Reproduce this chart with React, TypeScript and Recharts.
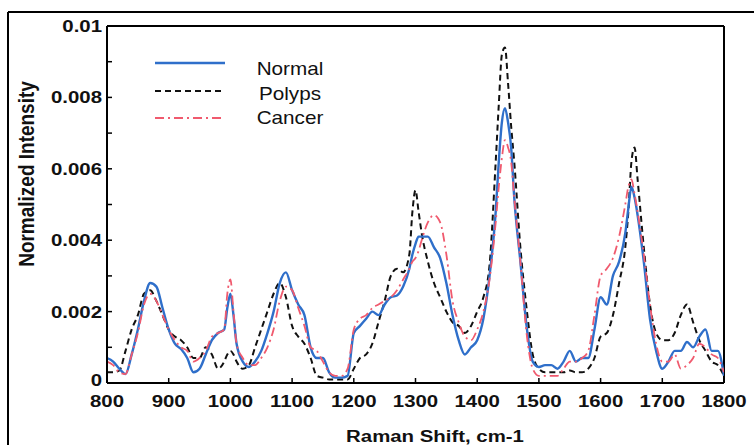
import React from "react";
import { LineChart, Line, XAxis, YAxis, ReferenceLine } from "recharts";

const shifts = [
  800, 810, 820, 830, 840, 850, 860, 870, 880, 890,
  900, 910, 920, 930, 940, 950, 960, 970, 980, 990,
  995, 1000, 1005, 1010, 1020, 1030, 1040, 1050, 1060, 1070,
  1080, 1090, 1100, 1110, 1120, 1130, 1140, 1150, 1160, 1170,
  1180, 1190, 1200, 1210, 1220, 1230, 1240, 1250, 1260, 1270,
  1280, 1290, 1295, 1300, 1305, 1310, 1320, 1330, 1340, 1350,
  1360, 1370, 1380, 1390, 1400, 1410, 1420, 1430, 1435, 1440,
  1445, 1450, 1455, 1460, 1470, 1480, 1490, 1500, 1510, 1520,
  1530, 1540, 1550, 1560, 1570, 1580, 1590, 1600, 1610, 1620,
  1630, 1640, 1645, 1650, 1655, 1660, 1670, 1680, 1690, 1700,
  1710, 1720, 1730, 1740, 1750, 1760, 1770, 1780, 1790, 1800,
];

const normal = [
  0.0007, 0.0006, 0.0004, 0.00025, 0.0008, 0.0015, 0.0023, 0.0028, 0.0027, 0.0021,
  0.0015, 0.0011, 0.00095, 0.0007, 0.0003, 0.0004, 0.0008, 0.0012, 0.0014, 0.0015,
  0.0021, 0.0025, 0.0019, 0.0011, 0.0006, 0.00045, 0.0006, 0.0009, 0.0014, 0.002,
  0.0028, 0.0031, 0.0026, 0.0022, 0.0019, 0.001, 0.0007, 0.0007, 0.0003, 0.00015,
  0.00015, 0.0002, 0.0014, 0.0016, 0.0018, 0.002, 0.0019, 0.0022, 0.0024, 0.00245,
  0.0027, 0.0032, 0.0036, 0.0039, 0.0041, 0.0041, 0.0041, 0.0038, 0.0035, 0.0028,
  0.0019, 0.0012, 0.0008, 0.001, 0.0012, 0.0018, 0.003, 0.0048, 0.0062, 0.0073,
  0.0077, 0.0073, 0.0066, 0.0052, 0.0034, 0.0016, 0.0006, 0.00045, 0.0005, 0.0005,
  0.0004, 0.0006, 0.0009, 0.0006, 0.0007, 0.0007, 0.0015, 0.0024, 0.0022, 0.003,
  0.0034, 0.0042, 0.0049, 0.0055, 0.0052, 0.0047, 0.0034, 0.0018, 0.0009, 0.0004,
  0.0006, 0.0009, 0.0009, 0.00115, 0.001, 0.0013, 0.0015, 0.0009, 0.0009, 0.0002,
];

const polyps = [
  0.0003, 0.0003, 0.00035, 0.0009, 0.0015, 0.0019, 0.0025, 0.0026, 0.0023, 0.0019,
  0.0015, 0.0013, 0.0012, 0.001, 0.0007, 0.0007, 0.001, 0.0008, 0.0004, 0.0006,
  0.0008, 0.0009, 0.0008, 0.0006, 0.0004, 0.0005, 0.001, 0.0015, 0.002, 0.0025,
  0.0028, 0.0024, 0.0016, 0.0013, 0.0011, 0.0007, 0.0002, 0.00015, 0.0001, 0.0001,
  0.0001, 0.0001, 0.0004, 0.0007, 0.0008, 0.0011, 0.0017, 0.0023, 0.003, 0.0032,
  0.0031, 0.0036, 0.0048, 0.0054, 0.0048, 0.0042, 0.0034, 0.0028, 0.0024, 0.002,
  0.0017, 0.0016, 0.0014, 0.0016, 0.002, 0.0024, 0.0033, 0.0062, 0.0078, 0.0092,
  0.0094, 0.0084, 0.0072, 0.0062, 0.0038, 0.0021, 0.0008, 0.0004, 0.0003, 0.0003,
  0.0003, 0.0003, 0.00035, 0.0003, 0.0003, 0.0004, 0.0007, 0.0013, 0.0014, 0.0019,
  0.0028, 0.0038, 0.0048, 0.0062, 0.0066, 0.0057, 0.0038, 0.0022, 0.0014, 0.0012,
  0.0012, 0.0014, 0.0019, 0.0022, 0.0017, 0.0012, 0.0009, 0.0006, 0.0005, 0.0002,
];

const cancer = [
  0.0006, 0.0005, 0.0003, 0.00025, 0.0008, 0.0014, 0.0022, 0.0025, 0.0023, 0.0019,
  0.0015, 0.0012, 0.001, 0.0009, 0.0006, 0.0007, 0.0009, 0.0013, 0.0014, 0.0015,
  0.0025, 0.0029, 0.002, 0.0011, 0.0007, 0.0005, 0.0005, 0.0007, 0.001, 0.0015,
  0.0023, 0.0027, 0.0026, 0.0021, 0.0016, 0.001, 0.0009, 0.0006, 0.0003, 0.0002,
  0.0002, 0.0004, 0.0015, 0.0018, 0.0019, 0.0021, 0.0022, 0.0023, 0.0024, 0.0026,
  0.0029, 0.0032, 0.0034, 0.0035, 0.0037, 0.004, 0.0045, 0.0047, 0.0045, 0.0036,
  0.0023, 0.0017, 0.0013, 0.0012, 0.0015, 0.002, 0.0029, 0.0045, 0.0055, 0.0063,
  0.0068, 0.0066, 0.0062, 0.0052, 0.0034, 0.0014, 0.0004, 0.0002, 0.0002, 0.0002,
  0.0002, 0.0004, 0.0006, 0.0006, 0.0007, 0.0009, 0.0019, 0.003, 0.0032, 0.0035,
  0.0041, 0.005, 0.0055, 0.0057, 0.0053, 0.0048, 0.0036, 0.0022, 0.0011, 0.0006,
  0.0006, 0.0008, 0.0004, 0.0005, 0.0007, 0.0011, 0.001, 0.0008, 0.0007, 0.0003,
];

const xTicks = [800, 900, 1000, 1100, 1200, 1300, 1400, 1500, 1600, 1700, 1800];
const yTicks = [0, 0.001, 0.002, 0.003, 0.004, 0.005, 0.006, 0.007, 0.008, 0.009, 0.01];
const yLabels: Record<string, string> = {
  "0": "0",
  "0.002": "0.002",
  "0.004": "0.004",
  "0.006": "0.006",
  "0.008": "0.008",
  "0.01": "0.01",
};

const seriesInfo = [
  { key: "Normal", color: "#2f6fca", dash: undefined as string | undefined, width: 2.4 },
  { key: "Polyps", color: "#111111", dash: "6 4", width: 2 },
  { key: "Cancer", color: "#f05a6e", dash: "9 4 2 4", width: 1.8 },
];

const data = shifts.map((s, i) => ({
  shift: s,
  Normal: normal[i],
  Polyps: polyps[i],
  Cancer: cancer[i],
}));

const FONT = "'Liberation Sans', Arial, sans-serif";

const YTick = (props: any) => {
  const { x, y, payload } = props;
  const label = yLabels[String(payload.value)];
  const dy = payload.value === 0 ? 3 : 6;
  return (
    <g>
      <line x1={x} x2={x + 5} y1={y} y2={y} stroke="#000" strokeWidth={1.5} />
      {label !== undefined && (
        <text
          transform={`translate(${x - 5},${y + dy}) scale(1.2,1)`}
          textAnchor="end"
          fontFamily={FONT}
          fontWeight="bold"
          fontSize={17}
          fill="#111"
        >
          {label}
        </text>
      )}
    </g>
  );
};

const XTick = (props: any) => {
  const { x, y, payload } = props;
  return (
    <g>
      <line x1={x} x2={x} y1={y} y2={y - 5} stroke="#000" strokeWidth={1.5} />
      <text
        transform={`translate(${x},${y + 24}) scale(1.2,1)`}
        textAnchor="middle"
        fontFamily={FONT}
        fontWeight="bold"
        fontSize={17}
        fill="#111"
      >
        {payload.value}
      </text>
    </g>
  );
};

const legendRows = [
  { y: 63, ty: 75 },
  { y: 91, ty: 100 },
  { y: 118, ty: 124 },
];

export default function App() {
  return (
    <div style={{ position: "absolute", left: 0, top: 0, width: 754, height: 445, background: "#fff" }}>
      <LineChart
        width={754}
        height={445}
        data={data}
        margin={{ top: 26, right: 30, bottom: 0, left: 0 }}
      >
        <XAxis
          dataKey="shift"
          type="number"
          domain={[800, 1800]}
          ticks={xTicks}
          interval={0}
          height={62}
          tickSize={0}
          tickMargin={0}
          tickLine={false}
          tick={<XTick />}
          axisLine={{ stroke: "#000", strokeWidth: 2 }}
          allowDataOverflow
        />
        <YAxis
          type="number"
          domain={[0, 0.01]}
          ticks={yTicks}
          interval={0}
          width={107}
          tickSize={0}
          tickMargin={0}
          tickLine={false}
          tick={<YTick />}
          axisLine={{ stroke: "#000", strokeWidth: 2 }}
          allowDataOverflow
        />
        <ReferenceLine y={0.01} stroke="#000" strokeWidth={2} ifOverflow="visible" />
        <ReferenceLine x={1800} stroke="#000" strokeWidth={2} ifOverflow="visible" />
        <Line
          dataKey="Polyps"
          type="monotone"
          stroke={seriesInfo[1].color}
          strokeWidth={seriesInfo[1].width}
          strokeDasharray={seriesInfo[1].dash}
          dot={false}
          isAnimationActive={false}
        />
        <Line
          dataKey="Normal"
          type="monotone"
          stroke={seriesInfo[0].color}
          strokeWidth={seriesInfo[0].width}
          dot={false}
          isAnimationActive={false}
        />
        <Line
          dataKey="Cancer"
          type="monotone"
          stroke={seriesInfo[2].color}
          strokeWidth={seriesInfo[2].width}
          strokeDasharray={seriesInfo[2].dash}
          dot={false}
          isAnimationActive={false}
        />
      </LineChart>
      <svg
        width={754}
        height={445}
        style={{ position: "absolute", left: 0, top: 0, pointerEvents: "none" }}
      >
        <line x1={8} x2={754} y1={12} y2={12} stroke="#000" strokeWidth={2} />
        <line x1={8} x2={8} y1={12} y2={445} stroke="#000" strokeWidth={2} />
        {seriesInfo.map((s, i) => (
          <g key={s.key}>
            <line
              x1={155}
              x2={225}
              y1={legendRows[i].y}
              y2={legendRows[i].y}
              stroke={s.color}
              strokeWidth={s.width}
              strokeDasharray={s.dash}
            />
            <text
              transform={`translate(290,${legendRows[i].ty}) scale(1.15,1)`}
              textAnchor="middle"
              fontFamily={FONT}
              fontSize={18}
              fill="#111"
            >
              {s.key}
            </text>
          </g>
        ))}
        <text
          transform="translate(34,174) rotate(-90) scale(1,1.2)"
          textAnchor="middle"
          fontFamily={FONT}
          fontWeight="bold"
          fontSize={19}
          fill="#111"
        >
          Normalized Intensity
        </text>
        <text
          transform="translate(435,442) scale(1.2,1)"
          textAnchor="middle"
          fontFamily={FONT}
          fontWeight="bold"
          fontSize={17}
          fill="#111"
        >
          Raman Shift, cm-1
        </text>
      </svg>
    </div>
  );
}
